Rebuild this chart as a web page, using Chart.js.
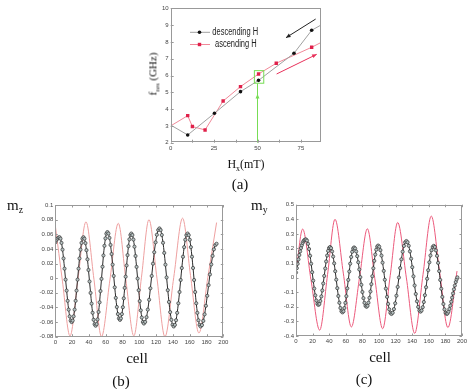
<!DOCTYPE html>
<html>
<head>
<meta charset="utf-8">
<script src="https://cdn.jsdelivr.net/npm/chart.js@4.4.1/dist/chart.umd.min.js"></script>
<style>
  html, body { margin: 0; padding: 0; background: #fff; }
  #wrap { position: relative; width: 474px; height: 389px; overflow: hidden; }
  canvas { position: absolute; }
  .lbl { position: absolute; font-family: 'Liberation Serif', serif; color: #111; white-space: nowrap; line-height: 1; }
  .c { transform: translate(-50%, -50%); }
  sub { font-size: 65%; vertical-align: baseline; position: relative; top: 0.35em; }
</style>
</head>
<body>
<div id="wrap">
  <canvas id="chartA" width="200" height="160" style="left:140px;top:0px"></canvas>
  <canvas id="chartB" width="235" height="150" style="left:0px;top:200px"></canvas>
  <canvas id="chartC" width="234" height="150" style="left:240px;top:200px"></canvas>

  <div class="lbl" style="left:153px;top:74px;font-size:11px;transform:translate(-50%,-50%) rotate(-90deg)">f<sub>res</sub> (GHz)</div>
  <div class="lbl c" style="left:246px;top:164px;font-size:12px">H<sub>x</sub>(mT)</div>
  <div class="lbl c" style="left:240px;top:184px;font-size:15px">(a)</div>

  <div class="lbl" style="left:7px;top:198px;font-size:15px">m<sub>z</sub></div>
  <div class="lbl c" style="left:137px;top:358px;font-size:15px">cell</div>
  <div class="lbl c" style="left:121px;top:381px;font-size:15px">(b)</div>

  <div class="lbl" style="left:251px;top:198px;font-size:15px">m<sub>y</sub></div>
  <div class="lbl c" style="left:380px;top:357px;font-size:15px">cell</div>
  <div class="lbl c" style="left:364px;top:379px;font-size:15px">(c)</div>
</div>
<script>
// (a) resonance frequency vs field
const aDescH = [0, 9.8, 25.2, 40.2, 50.6, 71, 81.2, 86.5];
const aDescF = [3.05, 2.46, 3.75, 5.04, 5.71, 7.32, 8.69, 9.0];
const aAscH = [0, 9.8, 12.5, 19.8, 30.2, 40.2, 50.6, 60.8, 81.2, 86.5];
const aAscF = [3.0, 3.61, 2.96, 2.76, 4.48, 5.34, 6.09, 6.73, 7.68, 7.96];
const aXTicks = [0, 25, 50, 75];
const aYTicks = [2, 3, 4, 5, 6, 7, 8, 9, 10];
const aLabels = ['descending H', 'ascending H'];

// (b) m_z along the cells
const bBlackCell = [0, 1.25, 2.5, 3.75, 5,
  6.2, 7.4, 8.6, 9.8, 11, 12.25, 13.5, 14.7, 15.9, 17.1, 18.3, 19.5,
  20.7, 21.8, 23, 24.2, 25.3, 26.5, 27.7, 28.8, 30, 31.2, 32.3, 33.5,
  34.7, 35.9, 37.1, 38.3, 39.5, 40.75, 42, 43.2, 44.4, 45.6, 46.8, 48,
  49.2, 50.3, 51.5, 52.7, 53.8, 55, 56.2, 57.3, 58.5, 59.7, 60.8, 62,
  63.25, 64.5, 65.75, 67, 68.25, 69.5, 70.75, 72, 73.25, 74.5, 75.75, 77,
  78.1, 79.25, 80.4, 81.5, 82.6, 83.75, 84.9, 86, 87.1, 88.25, 89.4, 90.5,
  91.75, 93, 94.25, 95.5, 96.75, 98, 99.25, 100.5, 101.75, 103, 104.25, 105.5,
  107, 108.6, 110.1, 111.7, 113.2, 114.75, 116.3, 117.8, 119.4, 120.9, 122.5, 124,
  125.4, 126.8, 128.25, 129.7, 131.1, 132.5, 133.9, 135.3, 136.75, 138.2, 139.6, 141,
  142.4, 143.75, 145.1, 146.5, 147.9, 149.25, 150.6, 152, 153.4, 154.75, 156.1, 157.5,
  158.8, 160.1, 161.4, 162.7, 164, 165.25, 166.5, 167.8, 169.1, 170.4, 171.7, 173,
  174.6, 176.2, 177.75, 179.3, 180.9, 182.5, 184.1, 185.7, 187.25, 188.8, 190.4, 192];
const bBlackMz = [0.049, 0.052, 0.054, 0.0555, 0.056,
  0.054, 0.0482, 0.039, 0.027, 0.013, -0.002, -0.017, -0.031, -0.043, -0.0522, -0.058, -0.06,
  -0.058, -0.0522, -0.043, -0.031, -0.017, -0.002, 0.013, 0.027, 0.039, 0.0482, 0.054, 0.056,
  0.0539, 0.0479, 0.0383, 0.0258, 0.0112, -0.0045, -0.0202, -0.0348, -0.0473, -0.0569, -0.0629, -0.065,
  -0.0628, -0.0564, -0.0462, -0.033, -0.0176, -0.001, 0.0156, 0.031, 0.0442, 0.0544, 0.0608, 0.063,
  0.061, 0.055, 0.0454, 0.033, 0.0185, 0.003, -0.0125, -0.027, -0.0394, -0.049, -0.055, -0.057,
  -0.055, -0.0491, -0.0397, -0.0275, -0.0133, 0.002, 0.0173, 0.0315, 0.0437, 0.0531, 0.059, 0.061,
  0.0589, 0.0528, 0.043, 0.0303, 0.0154, -0.0005, -0.0164, -0.0313, -0.044, -0.0538, -0.0599, -0.062,
  -0.0598, -0.0533, -0.043, -0.0295, -0.0138, 0.003, 0.0198, 0.0355, 0.049, 0.0593, 0.0658, 0.068,
  0.0657, 0.059, 0.0484, 0.0345, 0.0184, 0.001, -0.0164, -0.0325, -0.0464, -0.057, -0.0637, -0.066,
  -0.0638, -0.0575, -0.0474, -0.0343, -0.0189, -0.0025, 0.0139, 0.0293, 0.0424, 0.0525, 0.0588, 0.061,
  0.0588, 0.0525, 0.0424, 0.0293, 0.0139, -0.0025, -0.0189, -0.0343, -0.0474, -0.0575, -0.0638, -0.066,
  -0.0641, -0.0584, -0.0494, -0.0378, -0.0241, -0.0095, 0.0051, 0.0188, 0.0304, 0.0394, 0.0451, 0.047];
const bRedCell = [0, 8.5, 17.5, 27, 36.5, 46, 55, 65, 75, 84, 93.5, 102.5, 111.5, 121, 130.5, 141, 151.5, 161, 171, 181.5, 192];
const bRedMz = [0.072, -0.004, -0.079, -0.001, 0.077, -0.0015, -0.08, -0.0025, 0.075, -0.002, -0.079, 0.0005, 0.08, 0, -0.08, 0.001, 0.082, 0.0035, -0.075, 0.0005, 0.076];
const bXTicks = [0, 20, 40, 60, 80, 100, 120, 140, 160, 180, 200];
const bYTicks = [-0.08, -0.06, -0.04, -0.02, 0, 0.02, 0.04, 0.06, 0.08, 0.1];

// (c) m_y along the cells
const cBlackCell = [0, 1, 2, 3, 4, 5, 6, 7, 8, 9, 10, 11, 12,
  13.25, 14.5, 15.75, 17, 18.25, 19.5, 20.75, 22, 23.25, 24.5, 25.75, 27,
  28.2, 29.3, 30.5, 31.7, 32.8, 34, 35.2, 36.3, 37.5, 38.7, 39.8, 41,
  42.25, 43.5, 44.75, 46, 47.25, 48.5, 49.75, 51, 52.25, 53.5, 54.75, 56,
  57.2, 58.3, 59.5, 60.7, 61.8, 63, 64.2, 65.3, 66.5, 67.7, 68.8, 70,
  71.25, 72.5, 73.75, 75, 76.25, 77.5, 78.75, 80, 81.25, 82.5, 83.75, 85,
  86.2, 87.3, 88.5, 89.7, 90.8, 92, 93.2, 94.3, 95.5, 96.7, 97.8, 99,
  100.3, 101.7, 103, 104.3, 105.7, 107, 108.3, 109.7, 111, 112.3, 113.7, 115,
  116.5, 118, 119.5, 121, 122.5, 124, 125.5, 127, 128.5, 130, 131.5, 133,
  134.4, 135.8, 137.25, 138.7, 140.1, 141.5, 142.9, 144.3, 145.75, 147.2, 148.6, 150,
  151.3, 152.7, 154, 155.3, 156.7, 158, 159.3, 160.7, 162, 163.3, 164.7, 166,
  167.3, 168.6, 169.9, 171.2, 172.5, 173.75, 175, 176.3, 177.6, 178.9, 180.2, 181.5,
  182.6, 183.7, 184.8, 185.9, 187, 188.1, 189.2, 190.3, 191.4, 192.5, 193.5, 194.4];
const cBlackMy = [0.035, 0.065, 0.095, 0.125, 0.155, 0.18, 0.203, 0.222, 0.238, 0.25, 0.257, 0.261, 0.262,
  0.2544, 0.2319, 0.1962, 0.1498, 0.0956, 0.0375, -0.0206, -0.0748, -0.1212, -0.1569, -0.1794, -0.187,
  -0.1803, -0.1604, -0.1288, -0.0878, -0.0399, 0.0115, 0.0629, 0.1108, 0.1518, 0.1834, 0.2033, 0.21,
  0.2024, 0.18, 0.1444, 0.098, 0.044, -0.014, -0.072, -0.126, -0.1724, -0.208, -0.2304, -0.238,
  -0.2304, -0.2082, -0.1728, -0.1268, -0.0731, -0.0155, 0.0421, 0.0958, 0.1418, 0.1772, 0.1994, 0.207,
  0.2001, 0.1797, 0.1474, 0.1053, 0.0562, 0.0035, -0.0492, -0.0983, -0.1404, -0.1727, -0.1931, -0.2,
  -0.1929, -0.1719, -0.1385, -0.095, -0.0444, 0.01, 0.0644, 0.115, 0.1585, 0.1919, 0.2129, 0.22,
  0.212, 0.1886, 0.1513, 0.1028, 0.0462, -0.0145, -0.0752, -0.1318, -0.1803, -0.2176, -0.241, -0.249,
  -0.2405, -0.2155, -0.1758, -0.124, -0.0638, 0.001, 0.0658, 0.126, 0.1778, 0.2175, 0.2425, 0.251,
  0.2428, 0.2186, 0.1801, 0.13, 0.0717, 0.009, -0.0537, -0.112, -0.1621, -0.2006, -0.2248, -0.233,
  -0.2253, -0.2028, -0.1669, -0.1203, -0.0659, -0.0075, 0.0509, 0.1053, 0.1519, 0.1878, 0.2103, 0.218,
  0.2101, 0.1867, 0.1496, 0.1013, 0.045, -0.0155, -0.076, -0.1323, -0.1806, -0.2177, -0.2411, -0.249,
  -0.245, -0.233, -0.215, -0.192, -0.165, -0.137, -0.108, -0.08, -0.054, -0.03, -0.012, 0.002];
const cRedCell = [0, 8, 18, 28.5, 38, 47, 57, 66.7, 76.5, 86, 95, 104.4, 113.5, 122.5, 133, 143, 153, 163, 173, 183, 194];
const cRedMy = [0.03, 0.333, -0.013, -0.36, 0.02, 0.40, 0.031, -0.338, -0.0015, 0.335, -0.0075, -0.35, 0.014, 0.378, -0.002, -0.382, 0.02, 0.422, 0.04, -0.342, 0.045];
const cXTicks = [0, 20, 40, 60, 80, 100, 120, 140, 160, 180, 200];
const cYTicks = [-0.4, -0.3, -0.2, -0.1, 0, 0.1, 0.2, 0.3, 0.4, 0.5];

const pts = (xs, ys) => xs.map((x, i) => ({ x: x, y: ys[i] }));
const fmt = v => String(Math.round(v * 100) / 100);
const tickFont = { family: 'Liberation Sans', size: 6 };

// box round the plot area with short inward ticks
const framePlugin = {
  id: 'frame',
  afterDraw(chart, args, opts) {
    const { ctx, chartArea: a, scales } = chart;
    const len = opts.tick || 3;
    ctx.save();
    ctx.strokeStyle = opts.color || '#999';
    ctx.lineWidth = 1;
    ctx.strokeRect(Math.round(a.left) + 0.5, Math.round(a.top) + 0.5, Math.round(a.right - a.left) - 1, Math.round(a.bottom - a.top) - 1);
    ctx.beginPath();
    const majors = scales.x.ticks.map(t => t.value);
    const xs = majors.slice();
    if (opts.minor) {
      for (let i = 0; i < majors.length - 1; i++) xs.push((majors[i] + majors[i + 1]) / 2);
    }
    xs.forEach(v => {
      const px = Math.round(scales.x.getPixelForValue(v)) + 0.5;
      ctx.moveTo(px, a.bottom); ctx.lineTo(px, a.bottom - len);
      if (opts.mirror) { ctx.moveTo(px, a.top); ctx.lineTo(px, a.top + len); }
    });
    scales.y.ticks.forEach(t => {
      const py = Math.round(scales.y.getPixelForValue(t.value)) + 0.5;
      ctx.moveTo(a.left, py); ctx.lineTo(a.left + len, py);
      if (opts.mirror) { ctx.moveTo(a.right, py); ctx.lineTo(a.right - len, py); }
    });
    ctx.stroke();
    ctx.restore();
  }
};

function arrow(ctx, p0, p1, color) {
  const ang = Math.atan2(p1[1] - p0[1], p1[0] - p0[0]);
  ctx.strokeStyle = color;
  ctx.fillStyle = color;
  ctx.lineWidth = 1;
  ctx.beginPath();
  ctx.moveTo(p0[0], p0[1]);
  ctx.lineTo(p1[0], p1[1]);
  ctx.stroke();
  ctx.beginPath();
  ctx.moveTo(p1[0], p1[1]);
  ctx.lineTo(p1[0] - 5 * Math.cos(ang - 0.4), p1[1] - 5 * Math.sin(ang - 0.4));
  ctx.lineTo(p1[0] - 5 * Math.cos(ang + 0.4), p1[1] - 5 * Math.sin(ang + 0.4));
  ctx.closePath();
  ctx.fill();
}

// arrows, highlight box and legend of panel (a)
const annotA = {
  id: 'annotA',
  afterDatasetsDraw(chart) {
    const { ctx, scales: { x, y } } = chart;
    const P = (h, f) => [x.getPixelForValue(h), y.getPixelForValue(f)];
    ctx.save();
    arrow(ctx, P(83.5, 9.36), P(66.4, 8.25), '#222');
    arrow(ctx, P(61, 6.09), P(84.1, 7.26), '#e8305a');
    // green marker on the 50 mT point
    ctx.strokeStyle = '#77dd55';
    ctx.beginPath();
    ctx.moveTo(...P(50, 2)); ctx.lineTo(...P(50, 5.54));
    ctx.stroke();
    arrow(ctx, P(50, 3), P(50, 4.9), '#77dd55');
    const b0 = P(48.2, 6.29), b1 = P(53.6, 5.54);
    ctx.strokeStyle = '#77dd55';
    ctx.strokeRect(b0[0], b0[1], b1[0] - b0[0], b1[1] - b0[1]);
    // legend
    const rows = [32.3, 44.5];
    const textX = [72.3, 75];
    chart.data.datasets.forEach((ds, i) => {
      const yy = rows[i];
      ctx.strokeStyle = ds.borderColor;
      ctx.lineWidth = 1;
      ctx.beginPath(); ctx.moveTo(50, yy); ctx.lineTo(70, yy); ctx.stroke();
      ctx.fillStyle = ds.pointBackgroundColor;
      if (ds.pointStyle === 'rect') ctx.fillRect(57.8, yy - 1.7, 3.4, 3.4);
      else { ctx.beginPath(); ctx.arc(59.5, yy, 1.8, 0, Math.PI * 2); ctx.fill(); }
      ctx.save();
      ctx.translate(textX[i], yy);
      ctx.scale(0.75, 1);
      ctx.fillStyle = '#222';
      ctx.font = '10px "Liberation Sans"';
      ctx.textBaseline = 'middle';
      ctx.fillText(aLabels[i], 0, 0);
      ctx.restore();
    });
    ctx.restore();
  }
};

const zeroPad = s => { s.paddingLeft = 0; s.paddingRight = 0; s.paddingTop = 0; s.paddingBottom = 0; };

function axis(min, max, ticks, fit, format) {
  return {
    type: 'linear',
    min: min,
    max: max,
    afterBuildTicks: s => { s.ticks = ticks.map(v => ({ value: v })); },
    afterFit: s => { fit(s); zeroPad(s); },
    ticks: { font: tickFont, color: '#444', padding: 2, maxRotation: 0, autoSkip: false, callback: format },
    grid: { display: false, drawTicks: false },
    border: { display: false }
  };
}

const endless = (n, r) => ctx => (ctx.dataIndex === 0 || ctx.dataIndex === n - 1) ? 0 : r;

new Chart(document.getElementById('chartA'), {
  type: 'scatter',
  data: {
    datasets: [
      {
        data: pts(aDescH, aDescF), showLine: true,
        borderColor: '#a0a0a0', borderWidth: 1,
        pointBackgroundColor: '#111', pointBorderColor: '#111', pointBorderWidth: 0,
        pointRadius: endless(aDescH.length, 1.8)
      },
      {
        data: pts(aAscH, aAscF), showLine: true,
        borderColor: '#f08898', borderWidth: 1, pointStyle: 'rect',
        pointBackgroundColor: '#e0204a', pointBorderColor: '#e0204a', pointBorderWidth: 0,
        pointRadius: endless(aAscH.length, 2.4)
      }
    ]
  },
  options: {
    responsive: false,
    animation: false,
    events: [],
    layout: { padding: { left: 0, top: 8.3, right: 19.3, bottom: 0 } },
    plugins: { legend: { display: false }, tooltip: { enabled: false }, frame: { color: '#999', minor: true } },
    scales: {
      x: axis(0, 86.4, aXTicks, s => { s.height = 17.3; }, v => String(v)),
      y: axis(2, 10, aYTicks, s => { s.width = 30.7; }, v => String(v))
    }
  },
  plugins: [framePlugin, annotA]
});

function waveChart(id, blackX, blackY, redX, redY, redColor, xTicks, yTicks, yMin, yMax, pad, yWidth, xHeight) {
  return new Chart(document.getElementById(id), {
    type: 'scatter',
    data: {
      datasets: [
        {
          data: pts(blackX, blackY), showLine: true, cubicInterpolationMode: 'monotone',
          borderColor: '#2a2a2a', borderWidth: 1,
          pointRadius: 1.6, pointBackgroundColor: '#b8c4c4', pointBorderColor: '#333', pointBorderWidth: 0.7
        },
        {
          data: pts(redX, redY), showLine: true, cubicInterpolationMode: 'monotone',
          borderColor: redColor, borderWidth: 1, pointRadius: 0
        }
      ]
    },
    options: {
      responsive: false,
      animation: false,
      events: [],
      layout: { padding: pad },
      plugins: { legend: { display: false }, tooltip: { enabled: false }, frame: { color: '#999', mirror: true, tick: 2.5 } },
      scales: {
        x: axis(0, 200, xTicks, s => { s.height = xHeight; }, fmt),
        y: axis(yMin, yMax, yTicks, s => { s.width = yWidth; }, fmt)
      }
    },
    plugins: [framePlugin]
  });
}

waveChart('chartB', bBlackCell, bBlackMz, bRedCell, bRedMz, '#eea0a0', bXTicks, bYTicks, -0.08, 0.1,
  { left: 0, top: 5, right: 11.7, bottom: 0 }, 55.3, 13.3);
waveChart('chartC', cBlackCell, cBlackMy, cRedCell, cRedMy, '#ec5a7c', cXTicks, cYTicks, -0.4, 0.5,
  { left: 0, top: 1, right: 12, bottom: 0 }, 56, 14);
</script>
</body>
</html>
